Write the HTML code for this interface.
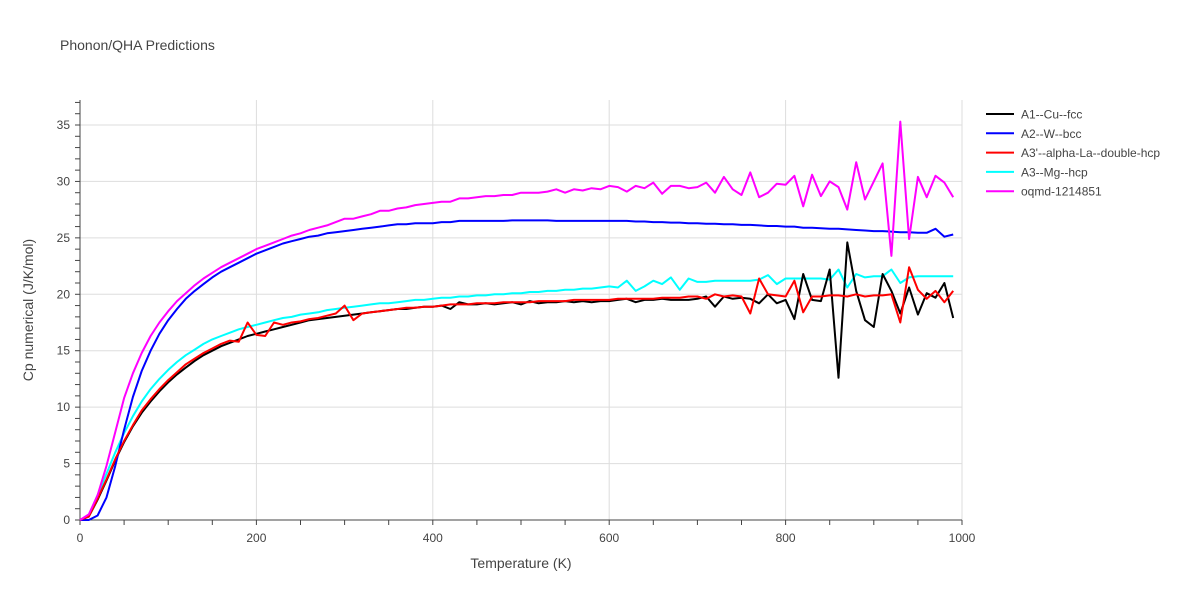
<!DOCTYPE html>
<html><head><meta charset="utf-8"><style>
body{margin:0;background:#fff;font-family:"Liberation Sans",Arial,sans-serif;}
svg text{font-family:"Liberation Sans",Arial,sans-serif;}
</style></head><body>
<svg id="chart" width="1200" height="600" xmlns="http://www.w3.org/2000/svg">
<rect width="1200" height="600" fill="#fff"/>
<text x="60" y="50" font-size="14" fill="#444">Phonon/QHA Predictions</text>
<g id="grid"></g><g id="axes"></g><g id="series"></g><g id="legend"></g>
<text x="521" y="568" font-size="14" fill="#444" text-anchor="middle">Temperature (K)</text>
<text x="33" y="310" font-size="14" fill="#444" text-anchor="middle" transform="rotate(-90 33 310)">Cp numerical (J/K/mol)</text>
</svg>
<script>
const temps = Array.from({length:100},(_, i)=>i*10);
const seriesNames = ["A1--Cu--fcc","A2--W--bcc","A3'--alpha-La--double-hcp","A3--Mg--hcp","oqmd-1214851"];
const seriesColors = ["#000000","#0000ff","#ff0000","#00ffff","#ff00ff"];
const cuValues = [0,0.3,1.8,3.5,5.3,6.9,8.3,9.5,10.5,11.4,
12.2,12.9,13.5,14.1,14.6,15.0,15.4,15.7,16.0,16.3,
16.5,16.7,16.9,17.1,17.3,17.5,17.7,17.8,17.9,18.0,
18.1,18.2,18.3,18.4,18.5,18.6,18.7,18.7,18.8,18.9,
18.9,19.0,18.7,19.3,19.1,19.1,19.2,19.1,19.2,19.3,
19.1,19.4,19.2,19.3,19.3,19.4,19.3,19.4,19.3,19.4,
19.4,19.5,19.6,19.3,19.5,19.5,19.6,19.5,19.5,19.5,
19.6,19.8,18.9,19.8,19.6,19.7,19.6,19.2,20.0,19.2,
19.5,17.8,21.8,19.5,19.4,22.2,12.6,24.6,20.3,17.7,
17.1,21.8,20.3,18.3,20.6,18.2,20.1,19.7,21.0,17.9];
const wValues = [0,0,0.4,2.0,4.8,8.0,10.9,13.2,15.0,16.5,
17.7,18.7,19.6,20.3,20.9,21.5,22.0,22.4,22.8,23.2,
23.6,23.9,24.2,24.5,24.7,24.9,25.1,25.2,25.4,25.5,
25.6,25.7,25.8,25.9,26.0,26.1,26.2,26.2,26.3,26.3,
26.3,26.4,26.4,26.5,26.5,26.5,26.5,26.5,26.5,26.55,
26.55,26.55,26.55,26.55,26.5,26.5,26.5,26.5,26.5,26.5,
26.5,26.5,26.5,26.45,26.45,26.4,26.4,26.35,26.35,26.3,
26.3,26.25,26.25,26.2,26.2,26.15,26.15,26.1,26.05,26.05,
26.0,26.0,25.9,25.9,25.85,25.8,25.8,25.75,25.7,25.65,
25.6,25.6,25.55,25.5,25.5,25.45,25.45,25.8,25.1,25.3];
const laValues = [0,0.3,1.9,3.6,5.4,7.0,8.4,9.7,10.7,11.6,
12.4,13.1,13.8,14.3,14.8,15.2,15.6,15.9,15.8,17.5,
16.4,16.3,17.5,17.3,17.5,17.6,17.8,17.9,18.1,18.3,
19.0,17.7,18.3,18.4,18.5,18.6,18.7,18.8,18.8,18.9,
18.9,19.0,19.1,19.1,19.1,19.2,19.2,19.2,19.3,19.3,
19.3,19.3,19.4,19.4,19.4,19.4,19.5,19.5,19.5,19.5,
19.5,19.6,19.6,19.6,19.6,19.6,19.7,19.7,19.7,19.8,
19.8,19.6,20.0,19.8,19.9,19.8,18.3,21.4,20.0,19.9,
19.8,21.2,18.4,19.8,19.8,19.9,19.9,19.8,20.0,19.8,
19.9,19.9,20.0,17.5,22.4,20.4,19.6,20.3,19.3,20.3];
const mgValues = [0,0.4,2.2,4.1,6.0,7.7,9.2,10.5,11.6,12.5,
13.3,14.0,14.6,15.1,15.6,16.0,16.3,16.6,16.9,17.1,
17.3,17.5,17.7,17.9,18.0,18.2,18.3,18.4,18.6,18.7,
18.8,18.9,19.0,19.1,19.2,19.2,19.3,19.4,19.5,19.5,
19.6,19.7,19.7,19.8,19.8,19.9,19.9,20.0,20.0,20.1,
20.1,20.2,20.2,20.3,20.3,20.4,20.4,20.5,20.5,20.6,
20.7,20.6,21.2,20.3,20.7,21.2,20.9,21.5,20.4,21.4,
21.1,21.1,21.2,21.2,21.2,21.2,21.2,21.3,21.7,20.9,
21.4,21.4,21.4,21.4,21.4,21.3,22.2,20.6,21.8,21.5,
21.6,21.6,22.2,21.0,21.5,21.6,21.6,21.6,21.6,21.6];
const oqmdValues = [0,0.5,2.2,4.8,7.8,10.8,13.0,14.8,16.3,17.5,
18.5,19.4,20.1,20.8,21.4,21.9,22.4,22.8,23.2,23.6,
24.0,24.3,24.6,24.9,25.2,25.4,25.7,25.9,26.1,26.4,
26.7,26.7,26.9,27.1,27.4,27.4,27.6,27.7,27.9,28.0,
28.1,28.2,28.2,28.5,28.5,28.6,28.7,28.7,28.8,28.8,
29.0,29.0,29.0,29.1,29.3,29.0,29.3,29.2,29.4,
29.3,29.6,29.5,29.1,29.6,29.4,29.9,28.9,29.6,29.6,
29.4,29.5,29.9,29.0,30.4,29.3,28.8,30.8,28.6,29.0,
29.8,29.7,30.5,27.8,30.6,28.7,30.0,29.5,27.5,31.7,
28.4,30.0,31.6,23.4,35.3,24.9,30.4,28.6,30.5,29.9,28.6];
const xTicks = [0,200,400,600,800,1000];
const yTicks = [0,5,10,15,20,25,30,35];

const X0=80,X1=962,Y0=520,YTOP=100;
const xs = v => X0 + v*(X1-X0)/1000;
const ys = v => Y0 - v*(Y0-125)/35;
const NS="http://www.w3.org/2000/svg";
function mk(tag,attrs,parent){const e=document.createElementNS(NS,tag);for(const k in attrs)e.setAttribute(k,attrs[k]);parent.appendChild(e);return e;}
const grid=document.getElementById('grid'),axes=document.getElementById('axes'),ser=document.getElementById('series'),leg=document.getElementById('legend');
xTicks.forEach(t=>{
  if(t>0){const l=mk('line',{x1:xs(t),x2:xs(t),y1:YTOP,y2:Y0,stroke:'#ddd','stroke-width':1},grid);
  
  }
  const tx=mk('text',{x:xs(t),y:542,'font-size':12,fill:'#444','text-anchor':'middle'},axes);tx.textContent=t;
  
  
});
yTicks.forEach(t=>{
  if(t>0){const l=mk('line',{x1:X0,x2:X1,y1:ys(t),y2:ys(t),stroke:'#ddd','stroke-width':1},grid);
  
  }
  const tx=mk('text',{x:70,y:ys(t)+4,'font-size':12,fill:'#444','text-anchor':'end'},axes);tx.textContent=t;
  
  
});
for(let v=0;v<=37;v++){mk('line',{x1:75,x2:80,y1:ys(v),y2:ys(v),stroke:'#444','stroke-width':1},axes);}
for(let t=0;t<=1000;t+=50){mk('line',{x1:xs(t),x2:xs(t),y1:Y0,y2:Y0+5,stroke:'#444','stroke-width':1},axes);}
const ya=mk('line',{x1:X0,x2:X0,y1:YTOP,y2:Y0,stroke:'#444','stroke-width':1},axes);


const xa=mk('line',{x1:X0,x2:X1,y1:Y0,y2:Y0,stroke:'#444','stroke-width':1},axes);


const allValues=[cuValues,wValues,laValues,mgValues,oqmdValues];
[3,0,1,2,4].forEach(si=>{
  const vals=allValues[si];
  const d=vals.map((v,i)=>(i?'L':'M')+xs(temps[i]).toFixed(1)+','+ys(v).toFixed(1)).join(' ');
  const p=mk('path',{d:d,fill:'none',stroke:seriesColors[si],'stroke-width':2,'stroke-linejoin':'round'},ser);
  
  
});
seriesNames.forEach((n,i)=>{
  const y=114+i*19.3;
  const g=mk('g',{},leg);
  
  
  mk('line',{x1:986,x2:1014,y1:y,y2:y,stroke:seriesColors[i],'stroke-width':2},g);
  const t=mk('text',{x:1021,y:y+4.5,'font-size':12,fill:'#444'},g);t.textContent=n;
});
</script>
</body></html>
